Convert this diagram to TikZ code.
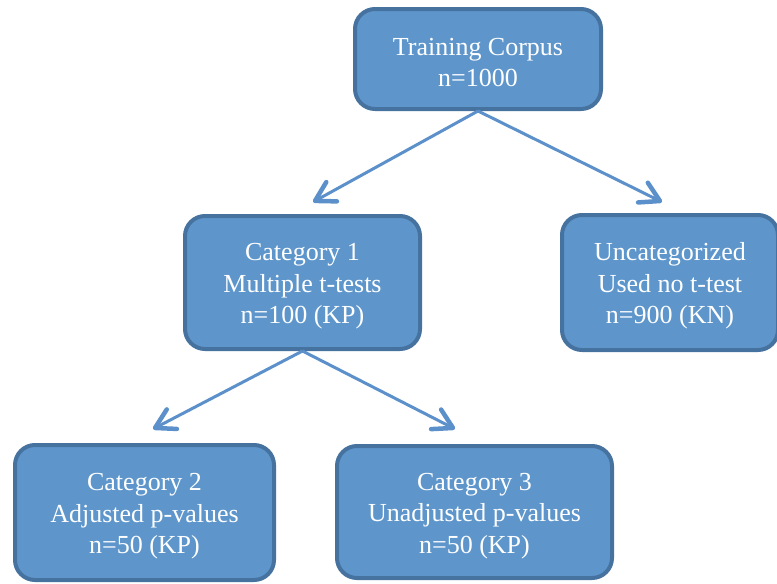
\documentclass[tikz,border=0pt]{standalone}
\usepackage{fontspec}
\setmainfont{Liberation Serif}
\usetikzlibrary{arrows.meta}
\definecolor{boxfill}{RGB}{94,150,204}
\definecolor{boxline}{RGB}{70,114,160}
\definecolor{arrowcol}{RGB}{91,144,202}
\begin{document}
\begin{tikzpicture}[x=1pt,y=-1pt,
  box/.style={draw=boxline, fill=boxfill, line width=4pt, rounded corners=20pt,
    text=white, align=center, font=\fontsize{26}{31.5}\selectfont, inner sep=0pt},
  twoline/.style={text height=56pt},
  threeline/.style={text height=88pt},
  conn/.style={draw=arrowcol, line width=3pt,
    -{Straight Barb[length=19pt,width=22pt,line width=4.5pt,round]}}]
\useasboundingbox (0,0) rectangle (777,584);
\node[box, twoline, minimum width=246pt, minimum height=100pt] (tc) at (478,59) {Training Corpus\\n=1000};
\node[box, threeline, minimum width=235pt, minimum height=133pt] (cat1) at (302.5,282.5) {Category 1\\Multiple t-tests\\n=100 (KP)};
\node[box, threeline, minimum width=216pt, minimum height=135pt] (unc) at (670,282.5) {Uncategorized\\Used no t-test\\n=900 (KN)};
\node[box, threeline, minimum width=259pt, minimum height=135pt] (cat2) at (144.5,512.5) {Category 2\\Adjusted p-values\\n=50 (KP)};
\node[box, threeline, minimum width=275pt, minimum height=132pt] (cat3) at (474.5,512) {Category 3\\Unadjusted p-values\\n=50 (KP)};
\coordinate (t1) at (313,202);
\coordinate (t2) at (662,202);
\coordinate (t3) at (153,429);
\coordinate (t4) at (455,429);
\draw[conn] (tc.south) -- (t1);
\draw[conn] (tc.south) -- (t2);
\draw[conn] (cat1.south) -- (t3);
\draw[conn] (cat1.south) -- (t4);
\end{tikzpicture}
\end{document}
